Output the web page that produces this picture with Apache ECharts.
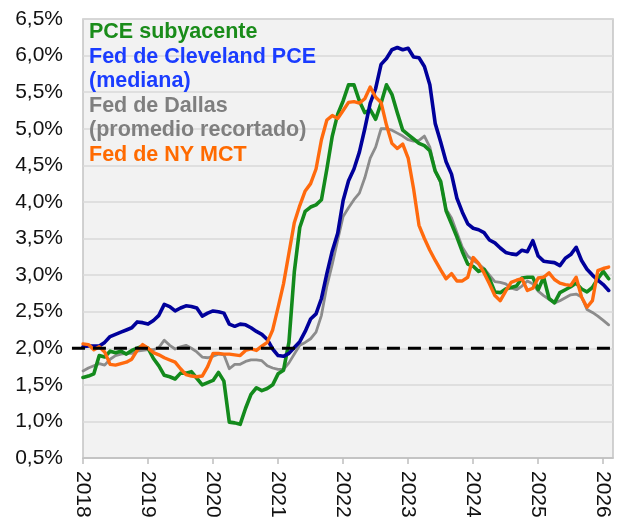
<!DOCTYPE html>
<html>
<head>
<meta charset="utf-8">
<script src="https://cdn.jsdelivr.net/npm/echarts@6/dist/echarts.min.js"></script>
<style>
html,body{margin:0;padding:0;background:#fff;}
#chart{width:621px;height:521px;}
</style>
</head>
<body>
<div id="chart"></div>
<script>
// Monthly observations, Jan 2018 .. Feb 2026 (98 months)
const startYear = 2018;
const yearTicks = [2018, 2019, 2020, 2021, 2022, 2023, 2024, 2025, 2026];
const yTicks = [0.5, 1.0, 1.5, 2.0, 2.5, 3.0, 3.5, 4.0, 4.5, 5.0, 5.5, 6.0, 6.5];
const targetLevel = 2.0;

const names = ['PCE subyacente', 'Fed de Cleveland PCE\n(mediana)', 'Fed de Dallas\n(promedio recortado)', 'Fed de NY MCT'];

const pceCore = [1.60,1.62,1.65,1.90,1.88,1.96,1.94,1.96,1.92,1.97,2.00,2.03,
  2.00,1.86,1.76,1.63,1.61,1.58,1.66,1.66,1.68,1.59,1.50,1.53,
  1.56,1.67,1.55,0.99,0.98,0.96,1.18,1.37,1.46,1.42,1.45,1.50,
  1.65,1.70,2.08,3.05,3.65,3.87,3.93,3.96,4.03,4.45,4.90,5.20,
  5.38,5.60,5.60,5.38,5.22,5.26,5.13,5.35,5.60,5.47,5.22,4.98,
  4.92,4.86,4.80,4.77,4.70,4.42,4.28,3.88,3.70,3.52,3.32,3.15,
  3.12,3.05,3.08,2.95,2.77,2.76,2.81,2.83,2.85,2.96,2.97,2.97,
  2.80,2.97,2.68,2.62,2.76,2.80,2.84,2.89,2.81,2.77,2.83,2.95,
  3.05,2.95];

const cleveland = [2.02,2.03,2.03,2.03,2.08,2.16,2.19,2.22,2.25,2.28,2.36,2.35,
  2.33,2.38,2.45,2.60,2.57,2.51,2.55,2.58,2.57,2.55,2.44,2.48,
  2.51,2.50,2.48,2.33,2.30,2.33,2.32,2.28,2.23,2.19,2.12,1.99,
  1.90,1.89,1.93,2.01,2.09,2.23,2.40,2.47,2.68,3.02,3.33,3.57,
  4.02,4.29,4.45,4.68,5.00,5.35,5.55,5.88,5.96,6.08,6.11,6.08,
  6.10,5.98,5.97,5.85,5.60,5.07,4.82,4.55,4.38,4.05,3.86,3.70,
  3.64,3.62,3.58,3.48,3.44,3.37,3.31,3.29,3.28,3.34,3.32,3.47,
  3.26,3.19,3.18,3.17,3.13,3.23,3.28,3.38,3.20,3.08,3.00,2.93,
  2.87,2.79];

const dallas = [1.69,1.73,1.76,1.79,1.77,1.85,1.90,1.92,1.93,1.93,1.96,1.97,
  1.98,1.98,2.01,2.11,2.04,1.99,2.02,2.04,2.00,1.95,1.88,1.87,
  1.89,1.92,1.91,1.72,1.78,1.78,1.82,1.84,1.84,1.83,1.76,1.73,
  1.71,1.71,1.80,1.92,2.04,2.08,2.13,2.22,2.45,2.85,3.15,3.48,
  3.80,3.92,4.03,4.12,4.33,4.60,4.75,5.00,5.00,4.98,4.94,4.90,
  4.85,4.83,4.84,4.90,4.75,4.42,4.26,3.90,3.78,3.58,3.38,3.26,
  3.20,3.15,3.09,3.00,2.91,2.90,2.88,2.82,2.80,2.85,2.92,2.88,
  2.78,2.72,2.67,2.62,2.65,2.69,2.73,2.74,2.70,2.53,2.49,2.44,
  2.38,2.32];

const nyMct = [2.06,2.05,1.98,2.02,1.95,1.78,1.77,1.79,1.81,1.85,1.97,2.05,
  2.00,1.94,1.91,1.87,1.84,1.81,1.72,1.64,1.62,1.61,1.62,1.75,
  1.93,1.93,1.92,1.92,1.91,1.90,1.97,1.99,1.97,2.03,2.08,2.25,
  2.56,2.88,3.30,3.72,3.95,4.15,4.25,4.45,4.85,5.12,5.18,5.14,
  5.25,5.36,5.37,5.35,5.41,5.57,5.43,5.36,5.05,4.80,4.73,4.79,
  4.60,4.18,3.68,3.50,3.34,3.20,3.07,2.95,3.02,2.92,2.92,2.97,
  3.24,3.16,3.03,2.88,2.72,2.65,2.78,2.90,2.93,2.95,2.79,2.82,
  2.96,2.97,3.03,2.94,2.89,2.87,2.86,2.97,2.70,2.56,2.65,3.06,
  3.09,3.11];

const lineColors = ['#138a1c', '#00009b', '#8c8c8c', '#ff6a0e'];
const textColors = ['#1a8c1a', '#1a3cff', '#7f7f7f', '#ff6a00'];

function toXY(arr) {
  return arr.map((v, i) => [startYear + i / 12, v]);
}

const FONT = "'Liberation Sans', Arial, sans-serif";
const chart = echarts.init(document.getElementById('chart'), null, {renderer: 'canvas'});

const valueSets = [pceCore, cleveland, dallas, nyMct];
const widths = [3.6, 3.6, 2.8, 3.4];
const zOrder = [3, 4, 2, 5];

const X_MAX = 2026.15;
const X_DASH_MIN = 2017.83; // target line starts a little left of the plot

const series = valueSets.map((vals, k) => ({
  name: names[k],
  type: 'line',
  data: toXY(vals),
  showSymbol: false,
  symbol: 'none',
  smooth: false,
  z: zOrder[k],
  lineStyle: {color: lineColors[k], width: widths[k], join: 'round', cap: 'round'},
  itemStyle: {color: lineColors[k]},
  emphasis: {disabled: true}
}));

series.push({
  name: 'target',
  type: 'line',
  xAxisIndex: 1,
  yAxisIndex: 1,
  data: [[X_DASH_MIN, targetLevel], [X_MAX, targetLevel]],
  symbol: 'none',
  silent: true,
  z: 10,
  lineStyle: {color: '#000', width: 3, type: [13, 8]},
  emphasis: {disabled: true}
});

// second grid: same vertical scale, horizontally extended so the target line can start left of the plot
const plotLeft = 83, plotRight = 8;
const pxPerYear = (621 - plotLeft - plotRight) / (X_MAX - startYear);
const dashLeft = plotLeft - (startYear - X_DASH_MIN) * pxPerYear;

chart.setOption({
  animation: false,
  backgroundColor: '#ffffff',
  grid: [{
    left: plotLeft, top: 19, right: plotRight, bottom: 63,
    containLabel: false,
    show: true,
    backgroundColor: '#f2f2f2',
    borderColor: '#c4c4c4',
    borderWidth: 1.5
  }, {
    left: dashLeft, top: 19, right: plotRight, bottom: 63,
    containLabel: false,
    show: false
  }],
  legend: {
    show: true,
    orient: 'vertical',
    left: 84,
    top: 20,
    padding: 0,
    itemGap: 0,
    itemWidth: 0,
    itemHeight: 0,
    icon: 'none',
    selectedMode: false,
    data: names.map((n, k) => ({name: n, icon: 'none', textStyle: {color: textColors[k]}})),
    textStyle: {fontFamily: FONT, fontSize: 21.5, fontWeight: 'bold', lineHeight: 24.5}
  },
  xAxis: [{
    type: 'value',
    gridIndex: 0,
    min: yearTicks[0],
    max: X_MAX,
    interval: 1,
    axisLine: {show: true, lineStyle: {color: '#bfbfbf', width: 1.5}},
    axisTick: {show: true, length: 6, lineStyle: {color: '#bfbfbf', width: 1.5}},
    splitLine: {show: false},
    axisLabel: {
      rotate: -90,
      margin: 13,
      fontFamily: FONT,
      fontSize: 21,
      color: '#111',
      showMaxLabel: false,
      formatter: v => (yearTicks.indexOf(Math.round(v * 1000) / 1000) >= 0 ? String(v) : '')
    }
  }, {
    type: 'value',
    gridIndex: 1,
    min: X_DASH_MIN,
    max: X_MAX,
    show: false
  }],
  yAxis: [{
    type: 'value',
    gridIndex: 0,
    min: yTicks[0],
    max: yTicks[yTicks.length - 1],
    interval: 0.5,
    axisLine: {show: false},
    axisTick: {show: false},
    splitLine: {show: true, lineStyle: {color: '#d9d9d9', width: 1.5}},
    axisLabel: {
      margin: 20,
      fontFamily: FONT,
      fontSize: 21,
      color: '#111',
      formatter: v => v.toFixed(1).replace('.', ',') + '%'
    }
  }, {
    type: 'value',
    gridIndex: 1,
    min: yTicks[0],
    max: yTicks[yTicks.length - 1],
    show: false
  }],
  series: series
});
</script>
</body>
</html>
